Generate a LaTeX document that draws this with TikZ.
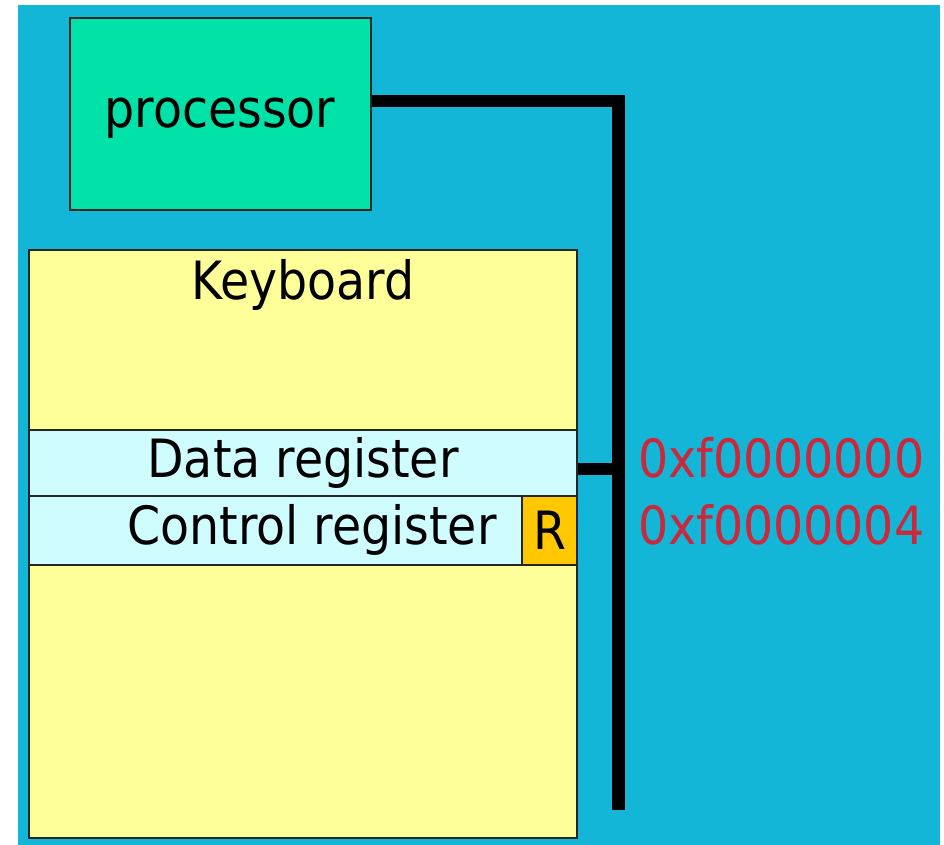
\documentclass[tikz,border=0pt]{standalone}
\usepackage{fontspec}
\setmainfont{DejaVu Sans Condensed}
\definecolor{slideblue}{RGB}{20,182,216}
\definecolor{procgreen}{RGB}{0,226,168}
\definecolor{kbdyellow}{RGB}{255,255,153}
\definecolor{reglight}{RGB}{206,252,255}
\definecolor{rorange}{RGB}{255,200,0}
\definecolor{addrred}{RGB}{204,40,60}
\tikzset{
  box/.style={draw=black!85, line width=1.3pt, rectangle, inner sep=0pt},
  txt/.style={font=\fontsize{37.5}{44}\selectfont, inner sep=0pt},
  bus/.style={draw=black, line width=9.2pt, line join=miter},
}
\begin{document}
\begin{tikzpicture}[x=0.025cm, y=-0.025cm]
\useasboundingbox (0,0) rectangle (944,845);
\fill[slideblue] (18,5) rectangle (940,845);

% processor
\node[box, fill=procgreen, minimum width=7.525cm, minimum height=4.8cm] (proc) at (220.5,114) {};
\node[txt] (proctxt) at (220,118) {processor};

% keyboard and its registers
\node[box, fill=kbdyellow, minimum width=13.7cm, minimum height=14.7cm] (kbd) at (303,544) {};
\node[txt] (kbdtxt) at (303,285) {Keyboard};
\node[box, fill=reglight, minimum width=13.7cm, minimum height=1.65cm] (datareg) at (303,463) {};
\node[txt] (datatxt) at (303,463) {Data register};
\node[box, fill=reglight, minimum width=13.7cm, minimum height=1.725cm] (ctrlreg) at (303,530.5) {};
\node[txt] (ctrltxt) at (312,530) {Control register};
\node[box, fill=rorange, minimum width=1.375cm, minimum height=1.725cm, txt] (rbit) at (549.5,530.5) {R};

% bus
\coordinate (bustop) at (618.5,101);
\coordinate (busbot) at (618.5,810);
\coordinate (datatap) at (618.5,469);
\draw[bus] (bustop -| proc.east) -- (bustop) -- (busbot);
\draw[bus] (datatap -| datareg.east) -- (datatap);

% addresses
\node[txt, text=addrred, anchor=west] (addr0) at (638,458) {0xf0000000};
\node[txt, text=addrred, anchor=west] (addr4) at (638,525) {0xf0000004};
\end{tikzpicture}
\end{document}
